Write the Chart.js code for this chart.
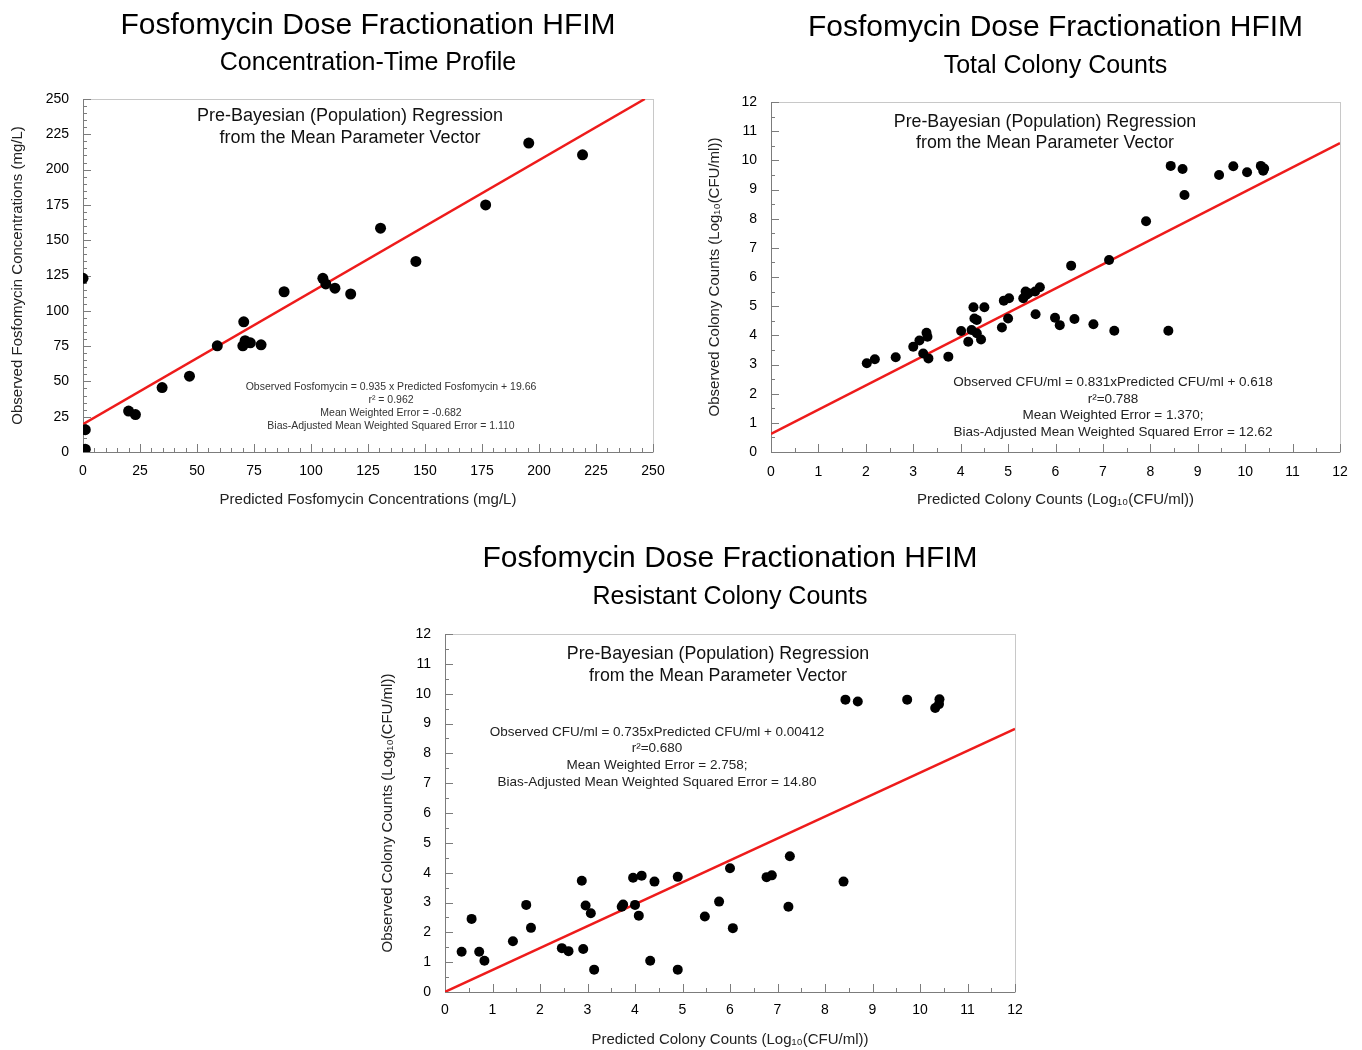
<!DOCTYPE html>
<html>
<head>
<meta charset="utf-8">
<script src="https://cdn.jsdelivr.net/npm/chart.js@4.4.1/dist/chart.umd.min.js"></script>
<style>
body { margin: 0; background: #fff; width: 1362px; height: 1050px; position: relative; overflow: hidden; }
canvas { position: absolute; }
</style>
</head>
<body>
<canvas id="concChart" width="680" height="520" style="left:0;top:0"></canvas>
<canvas id="totalChart" width="672" height="520" style="left:690px;top:0"></canvas>
<canvas id="resistChart" width="670" height="520" style="left:370px;top:530px"></canvas>
<script>
const FONT = '"Liberation Sans", Arial, Helvetica, sans-serif';

// Concentration-time profile (mg/L)
const predConc = [0, 1, 1, 20, 23, 34.7, 46.7, 58.9, 70.1, 70.5, 71.1, 73.4, 78.1, 88.2, 105.2, 106.5, 110.5, 117.4, 130.5, 146, 176.6, 195.5, 219.1];
const obsConc  = [123, 15.8, 2, 29, 26.5, 45.6, 53.7, 75.2, 75.2, 92.2, 78.8, 77.3, 75.9, 113.5, 123, 119, 116, 111.9, 158.5, 135, 175, 218.8, 210.5];
const concFitX = [0, 246.4];
const concFitY = [19.66, 250];

// Total colony counts (log10 CFU/ml)
const predTotal = [2.02, 2.19, 2.63, 3.0, 3.13, 3.28, 3.30, 3.21, 3.32, 3.74, 4.01, 4.16, 4.23, 4.34, 4.29, 4.34, 4.43, 4.27, 4.5, 4.87, 4.91, 5.02, 5.0, 5.32, 5.37, 5.38, 5.43, 5.57, 5.67, 5.58, 5.99, 6.09, 6.33, 6.4, 6.8, 7.13, 7.24, 7.91, 8.38, 8.43, 8.68, 8.72, 9.45, 9.75, 10.04, 10.33, 10.38, 10.40];
const obsTotal  = [3.04, 3.18, 3.25, 3.61, 3.82, 4.09, 3.95, 3.38, 3.21, 3.27, 4.15, 3.78, 4.18, 4.07, 4.58, 4.53, 3.86, 4.96, 4.96, 4.27, 5.19, 5.27, 4.58, 5.27, 5.5, 5.38, 5.44, 5.5, 5.65, 4.72, 4.6, 4.35, 6.39, 4.56, 4.38, 6.58, 4.16, 7.91, 4.16, 9.81, 9.70, 8.81, 9.5, 9.8, 9.59, 9.81, 9.64, 9.72];
const totalFitX = [0, 12];
const totalFitY = [0.618, 10.59];

// Resistant colony counts (log10 CFU/ml)
const predResist = [0.35, 0.56, 0.72, 0.83, 1.43, 1.71, 1.81, 2.46, 2.6, 2.88, 2.96, 3.07, 2.91, 3.14, 3.72, 3.75, 3.96, 4.14, 4.0, 4.08, 4.41, 4.32, 4.9, 4.9, 5.47, 5.77, 6.0, 6.06, 6.77, 6.88, 7.26, 7.23, 8.39, 8.43, 8.69, 9.73, 10.32, 10.4, 10.41];
const obsResist  = [1.35, 2.45, 1.35, 1.05, 1.7, 2.92, 2.15, 1.47, 1.37, 3.73, 2.9, 2.64, 1.44, 0.75, 2.86, 2.93, 3.83, 3.9, 2.92, 2.56, 3.7, 1.05, 3.86, 0.75, 2.53, 3.03, 4.15, 2.14, 3.85, 3.91, 4.55, 2.86, 3.7, 9.8, 9.74, 9.8, 9.52, 9.65, 9.81];
const resistFitX = [0, 12];
const resistFitY = [0.00412, 8.82];

const mainTitle = 'Fosfomycin Dose Fractionation HFIM';
const colonyX = 'Predicted Colony Counts (Log\u2081\u2080(CFU/ml))';
const colonyY = 'Observed Colony Counts (Log\u2081\u2080(CFU/ml))';

function isMajor(v, major) {
  const r = v / major;
  return Math.abs(r - Math.round(r)) < 1e-6;
}

// box around the plot, inward tick marks, and the text notes
const plotFrame = {
  id: 'plotFrame',
  beforeDatasetsDraw(chart, args, opts) {
    const { ctx, chartArea: a, scales: { x, y } } = chart;
    ctx.save();
    ctx.lineWidth = 1;
    ctx.strokeStyle = '#c8c8c8';
    ctx.strokeRect(a.left + 0.5, a.top + 0.5, a.right - a.left, a.bottom - a.top);
    ctx.strokeStyle = '#7c7c7c';
    ctx.beginPath();
    ctx.moveTo(a.left + 0.5, a.top);
    ctx.lineTo(a.left + 0.5, a.bottom + 0.5);
    ctx.lineTo(a.right, a.bottom + 0.5);
    x.ticks.forEach(t => {
      const px = Math.round(x.getPixelForValue(t.value)) + 0.5;
      const len = isMajor(t.value, opts.xMajor) ? 8 : 4;
      ctx.moveTo(px, a.bottom);
      ctx.lineTo(px, a.bottom - len);
    });
    y.ticks.forEach(t => {
      const py = Math.round(y.getPixelForValue(t.value)) + 0.5;
      const len = isMajor(t.value, opts.yMajor) ? 8 : 4;
      ctx.moveTo(a.left, py);
      ctx.lineTo(a.left + len, py);
    });
    ctx.stroke();
    ctx.restore();
  },
  afterDraw(chart, args, opts) {
    const { ctx, chartArea: a } = chart;
    ctx.save();
    ctx.textAlign = 'center';
    ctx.textBaseline = 'middle';
    (opts.notes || []).forEach(n => {
      ctx.font = n.size + 'px ' + FONT;
      ctx.fillStyle = n.color || '#111';
      ctx.fillText(n.text, a.left + n.dx, a.top + n.dy);
    });
    ctx.restore();
  }
};

function scatterChart(id, o) {
  return new Chart(document.getElementById(id), {
    type: 'scatter',
    data: {
      datasets: [
        {
          data: o.px.map((v, i) => ({ x: v, y: o.py[i] })),
          backgroundColor: '#000',
          borderWidth: 0,
          pointRadius: o.r,
          order: 1
        },
        {
          data: o.fx.map((v, i) => ({ x: v, y: o.fy[i] })),
          showLine: true,
          borderColor: '#ee1b1b',
          borderWidth: 2.5,
          pointRadius: 0,
          fill: false,
          order: 2
        }
      ]
    },
    plugins: [plotFrame],
    options: {
      responsive: false,
      animation: false,
      layout: { padding: { left: 0, right: o.padRight, top: 0, bottom: 0 } },
      scales: {
        x: {
          type: 'linear', min: o.xMin, max: o.xMax,
          afterFit: s => { s.height = o.xH; },
          grid: { display: false, drawTicks: false }, border: { display: false },
          ticks: {
            stepSize: o.xStep, autoSkip: false, maxRotation: 0, minRotation: 0,
            padding: o.xTickPad, color: '#000', font: { family: FONT, size: 14 },
            callback: v => isMajor(v, o.xMajor) ? v : ''
          },
          title: { display: true, text: o.xTitle, color: '#222', font: { family: FONT, size: 15 }, padding: { top: 0, bottom: o.xTitlePad } }
        },
        y: {
          type: 'linear', min: o.yMin, max: o.yMax,
          afterFit: s => { s.width = o.yW; },
          grid: { display: false, drawTicks: false }, border: { display: false },
          ticks: {
            stepSize: o.yStep, autoSkip: false,
            padding: 14, color: '#000', font: { family: FONT, size: 14 },
            callback: v => isMajor(v, o.yMajor) ? v : ''
          },
          title: { display: true, text: o.yTitle, color: '#222', font: { family: FONT, size: 15 }, padding: { top: o.yTitlePad, bottom: 0 } }
        }
      },
      plugins: {
        legend: { display: false },
        tooltip: { enabled: false },
        title: {
          display: true, text: mainTitle, fullSize: false, color: '#000',
          font: { family: FONT, size: 30, weight: 'normal', lineHeight: 1.2 },
          padding: { top: o.tPad[0], bottom: o.tPad[1] }
        },
        subtitle: {
          display: true, text: o.sub, fullSize: false, color: '#000',
          font: { family: FONT, size: 25, weight: 'normal', lineHeight: 1.2 },
          padding: { top: 0, bottom: o.sPad }
        },
        plotFrame: { xMajor: o.xMajor, yMajor: o.yMajor, notes: o.notes }
      }
    }
  });
}

scatterChart('concChart', {
  px: predConc, py: obsConc, fx: concFitX, fy: concFitY, r: 5.5,
  xMin: 0, xMax: 250, xStep: 5, xMajor: 25,
  yMin: 0, yMax: 250, yStep: 5, yMajor: 25,
  xTitle: 'Predicted Fosfomycin Concentrations (mg/L)',
  yTitle: 'Observed Fosfomycin Concentrations (mg/L)',
  sub: 'Concentration-Time Profile',
  yW: 83, xH: 68, padRight: 27, xTickPad: 11, xTitlePad: 11, yTitlePad: 8.5,
  tPad: [8, 4], sPad: 21,
  notes: [
    { text: 'Pre-Bayesian (Population) Regression', dx: 267, dy: 17, size: 18 },
    { text: 'from the Mean Parameter Vector', dx: 267, dy: 39, size: 18 },
    { text: 'Observed Fosfomycin = 0.935 x Predicted Fosfomycin + 19.66', dx: 308, dy: 288, size: 10.5, color: '#333' },
    { text: 'r\u00b2 = 0.962', dx: 308, dy: 301, size: 10.5, color: '#333' },
    { text: 'Mean Weighted Error = -0.682', dx: 308, dy: 314, size: 10.5, color: '#333' },
    { text: 'Bias-Adjusted Mean Weighted Squared Error = 1.110', dx: 308, dy: 327, size: 10.5, color: '#333' }
  ]
});

scatterChart('totalChart', {
  px: predTotal, py: obsTotal, fx: totalFitX, fy: totalFitY, r: 5,
  xMin: 0, xMax: 12, xStep: 0.5, xMajor: 1,
  yMin: 0, yMax: 12, yStep: 0.5, yMajor: 1,
  xTitle: colonyX, yTitle: colonyY,
  sub: 'Total Colony Counts',
  yW: 81, xH: 68, padRight: 22, xTickPad: 12, xTitlePad: 11, yTitlePad: 16,
  tPad: [10, 5], sPad: 21,
  notes: [
    { text: 'Pre-Bayesian (Population) Regression', dx: 274, dy: 20, size: 17.8 },
    { text: 'from the Mean Parameter Vector', dx: 274, dy: 41, size: 17.8 },
    { text: 'Observed CFU/ml = 0.831xPredicted CFU/ml + 0.618', dx: 342, dy: 280, size: 13.5, color: '#222' },
    { text: 'r\u00b2=0.788', dx: 342, dy: 297, size: 13.5, color: '#222' },
    { text: 'Mean Weighted Error = 1.370;', dx: 342, dy: 313, size: 13.5, color: '#222' },
    { text: 'Bias-Adjusted Mean Weighted Squared Error = 12.62', dx: 342, dy: 330, size: 13.5, color: '#222' }
  ]
});

scatterChart('resistChart', {
  px: predResist, py: obsResist, fx: resistFitX, fy: resistFitY, r: 5,
  xMin: 0, xMax: 12, xStep: 0.5, xMajor: 1,
  yMin: 0, yMax: 12, yStep: 0.5, yMajor: 1,
  xTitle: colonyX, yTitle: colonyY,
  sub: 'Resistant Colony Counts',
  yW: 75, xH: 58, padRight: 25, xTickPad: 10, xTitlePad: 1, yTitlePad: 9,
  tPad: [11, 5], sPad: 22,
  notes: [
    { text: 'Pre-Bayesian (Population) Regression', dx: 273, dy: 20, size: 17.8 },
    { text: 'from the Mean Parameter Vector', dx: 273, dy: 42, size: 17.8 },
    { text: 'Observed CFU/ml = 0.735xPredicted CFU/ml + 0.00412', dx: 212, dy: 98, size: 13.5, color: '#222' },
    { text: 'r\u00b2=0.680', dx: 212, dy: 114, size: 13.5, color: '#222' },
    { text: 'Mean Weighted Error = 2.758;', dx: 212, dy: 131, size: 13.5, color: '#222' },
    { text: 'Bias-Adjusted Mean Weighted Squared Error = 14.80', dx: 212, dy: 148, size: 13.5, color: '#222' }
  ]
});
</script>
</body>
</html>
